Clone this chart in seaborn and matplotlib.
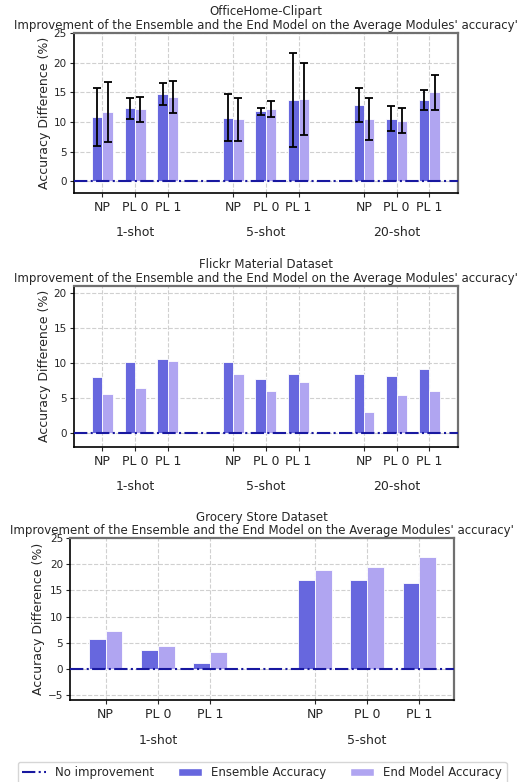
import numpy as np
import pandas as pd
import matplotlib
matplotlib.use("Agg")
import matplotlib.pyplot as plt
import seaborn as sns
from matplotlib.transforms import blended_transform_factory
from matplotlib.lines import Line2D
from matplotlib.patches import Patch

# ---------------- data ----------------
methods = ["NP", "PL 0", "PL 1"]
shots3 = ["1-shot", "5-shot", "20-shot"]
shots2 = ["1-shot", "5-shot"]

subtitle = "Improvement of the Ensemble and the End Model on the Average Modules' accuracy'"
titles = ["OfficeHome-Clipart", "Flickr Material Dataset", "Grocery Store Dataset"]

oh_ens = [10.9, 12.3, 14.7, 10.7, 11.8, 13.7, 12.8, 10.5, 13.7]
oh_ens_err = [4.9, 1.75, 1.8, 4.0, 0.6, 8.0, 2.9, 2.1, 1.75]
oh_end = [11.7, 12.1, 14.2, 10.45, 12.2, 13.85, 10.45, 10.2, 15.0]
oh_end_err = [5.1, 2.1, 2.7, 3.65, 1.3, 6.1, 3.5, 2.15, 2.95]

fl_ens = [7.95, 10.05, 10.5, 10.15, 7.7, 8.35, 8.45, 8.1, 9.15]
fl_end = [5.6, 6.45, 10.25, 8.35, 5.9, 7.25, 2.9, 5.35, 6.0]

gr_ens = [5.6, 3.65, 1.1, 17.0, 17.0, 16.45]
gr_end = [7.3, 4.25, 3.1, 18.95, 19.5, 21.4]

series_names = ["Ensemble Accuracy", "End Model Accuracy"]
line_name = "No improvement"

# ---------------- style ----------------
sns.set_style("ticks")
plt.rcParams["font.family"] = ["DejaVu Sans"]
c_ens = "#6767de"
c_end = "#b0a5f1"
c_line = "#1818a0"

fig = plt.figure(figsize=(5.21, 7.82), dpi=100)
ax_rects = [
    [0.1415, 0.7532, 0.7376, 0.2046],
    [0.1415, 0.4288, 0.7376, 0.2055],
    [0.1344, 0.1049, 0.7370, 0.2068],
]
ylims = [(-2, 25), (-2, 21), (-6, 25)]
yticks = [np.arange(0, 26, 5), np.arange(0, 21, 5), np.arange(-5, 26, 5)]

panels = [
    (shots3, oh_ens, oh_end, oh_ens_err, oh_end_err),
    (shots3, fl_ens, fl_end, None, None),
    (shots2, gr_ens, gr_end, None, None),
]

off = 0.16
for k, (shots, ens, end, ens_err, end_err) in enumerate(panels):
    ax = fig.add_axes(ax_rects[k])
    pos = [g * 4 + i for g in range(len(shots)) for i in range(len(methods))]
    labels = [m for _ in shots for m in methods]
    df = pd.DataFrame({
        "pos": pos + pos,
        "value": list(ens) + list(end),
        "model": [series_names[0]] * len(pos) + [series_names[1]] * len(pos),
    })
    ax.set_axisbelow(True)
    ax.grid(True, linestyle="--", color="#d0d0d0", linewidth=0.8)
    sns.barplot(data=df, x="pos", y="value", hue="model", hue_order=series_names,
                native_scale=True, width=2 * off * 2, palette=[c_ens, c_end],
                edgecolor="white", linewidth=0.6, errorbar=None, legend=False,
                saturation=1, ax=ax)
    if ens_err is not None:
        p = np.array(pos, dtype=float)
        ax.errorbar(p - off, ens, yerr=ens_err, fmt="none", ecolor="black",
                    elinewidth=1.3, capsize=2.6, capthick=1.3, zorder=5)
        ax.errorbar(p + off, end, yerr=end_err, fmt="none", ecolor="black",
                    elinewidth=1.3, capsize=2.6, capthick=1.3, zorder=5)
    ax.axhline(0, color=c_line, linestyle="-.", linewidth=1.5, zorder=6)
    n = len(pos)
    ax.set_xlim(-0.875 if k < 2 else -0.68, pos[-1] + (0.875 if k < 2 else 0.66))
    ax.set_ylim(*ylims[k])
    ax.set_yticks(yticks[k])
    ax.set_xticks(pos)
    ax.set_xticklabels(labels, fontsize=9)
    ax.tick_params(axis="y", labelsize=7.5, length=3, width=0.8, pad=2)
    ax.tick_params(axis="x", length=3, width=0.8, pad=3)
    ax.set_xlabel("")
    ax.set_ylabel("Accuracy Difference (%)", fontsize=9, labelpad=2)
    ax.set_title(titles[k] + "\n" + subtitle, fontsize=8.5, pad=3, linespacing=1.05)
    for s in ["left", "bottom"]:
        ax.spines[s].set_color("black")
        ax.spines[s].set_linewidth(1.2)
    for s in ["top", "right"]:
        ax.spines[s].set_color("#707070")
        ax.spines[s].set_linewidth(1.6)
    tr = blended_transform_factory(ax.transData, ax.transAxes)
    for g, s in enumerate(shots):
        ax.text(g * 4 + 1, -0.25, s, transform=tr, ha="center", va="center", fontsize=9)

handles = [
    Line2D([], [], color=c_line, linestyle="-.", linewidth=1.5, label=line_name),
    Patch(facecolor=c_ens, label=series_names[0]),
    Patch(facecolor=c_end, label=series_names[1]),
]
fig.legend(handles=handles, loc="upper center", bbox_to_anchor=(0.503, 0.0336),
           ncol=3, fontsize=8.5, frameon=True)

fig.savefig("out.png", dpi=100)
